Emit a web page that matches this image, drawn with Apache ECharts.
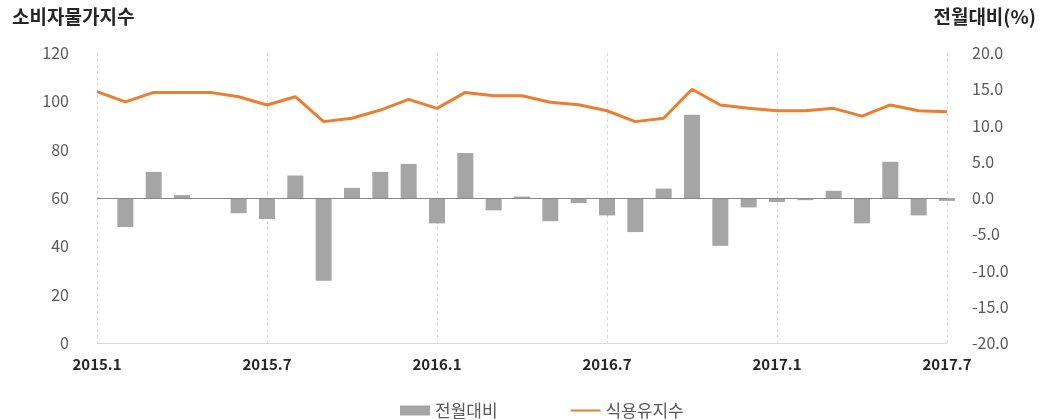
<!DOCTYPE html>
<html><head><meta charset="utf-8">
<script src="https://cdn.jsdelivr.net/npm/echarts@6/dist/echarts.min.js"></script>
<style>html,body{margin:0;padding:0;background:#fff}#c{width:1046px;height:420px}</style>
</head><body><div id="c"></div>
<script>
const categories = ['2015.1','2015.2','2015.3','2015.4','2015.5','2015.6','2015.7','2015.8','2015.9','2015.10','2015.11','2015.12',
 '2016.1','2016.2','2016.3','2016.4','2016.5','2016.6','2016.7','2016.8','2016.9','2016.10','2016.11','2016.12',
 '2017.1','2017.2','2017.3','2017.4','2017.5','2017.6','2017.7'];
const momChange = [0,-4.0,3.6,0.4,0,-2.1,-2.9,3.1,-11.4,1.4,3.6,4.7,-3.5,6.2,-1.7,0.2,-3.2,-0.7,-2.4,-4.7,1.3,11.5,-6.6,-1.3,-0.55,-0.3,1.0,-3.5,5.0,-2.4,-0.4];
const oilIndex = [104.0,99.8,103.7,103.7,103.7,101.9,98.5,101.9,91.6,93.0,96.4,100.8,97.1,103.7,102.3,102.3,99.6,98.6,96.1,91.6,93.0,105.0,98.5,97.1,96.1,96.1,97.1,93.9,98.5,96.1,95.7];
const leftTicks = [0,20,40,60,80,100,120];
const rightTicks = [-20,-15,-10,-5,0,5,10,15,20];

const font = '"Noto Sans CJK KR", "Noto Sans", sans-serif';
const chart = echarts.init(document.getElementById('c'));
chart.setOption({
  animation:false,
  textStyle:{fontFamily:font},
  title:[
    {text:'소비자물가지수', left:7, top:2, textStyle:{fontFamily:font, fontSize:19, fontWeight:'bold', color:'#262626'}},
    {text:'전월대비(%)', right:5, top:2, textStyle:{fontFamily:font, fontSize:19, fontWeight:'bold', color:'#262626'}}
  ],
  grid:{left:97, right:99, top:53, bottom:77},
  legend:{
    top:397, left:395, itemGap:72, itemWidth:30, itemHeight:10,
    textStyle:{fontFamily:font, fontSize:17, color:'#595959'},
    data:[{name:'전월대비', icon:'rect'}, {name:'식용유지수', itemStyle:{opacity:0}}]
  },
  xAxis:{
    type:'category', data:categories, boundaryGap:false,
    axisLine:{lineStyle:{color:'#d9d9d9'}},
    axisTick:{show:false},
    axisLabel:{interval:5, fontFamily:font, fontSize:15, fontWeight:'bold', color:'#262626', margin:14},
    splitLine:{show:true, interval:5, lineStyle:{color:'#d9d9d9', type:[3,3]}}
  },
  yAxis:[
    {type:'value', min:leftTicks[0], max:leftTicks[leftTicks.length-1], interval:20,
     axisLine:{show:false}, axisTick:{show:false}, splitLine:{show:false},
     axisLabel:{fontFamily:font, fontSize:16, color:'#595959', margin:28}},
    {type:'value', min:rightTicks[0], max:rightTicks[rightTicks.length-1], interval:5,
     axisLine:{show:false}, axisTick:{show:false}, splitLine:{show:false},
     axisLabel:{fontFamily:font, fontSize:16, color:'#595959', margin:25, formatter:v=>v.toFixed(1)}}
  ],
  series:[
    {name:'전월대비', type:'bar', yAxisIndex:1, data:momChange, barWidth:16, clip:false,
     itemStyle:{color:'#a5a5a5'},
     markLine:{silent:true, symbol:'none', label:{show:false}, lineStyle:{color:'#868686', width:1, type:'solid'},
       data:[{yAxis:0}]}},
    {name:'식용유지수', type:'line', yAxisIndex:0, data:oilIndex, symbol:'none',
     lineStyle:{color:'#ed7d31', width:3}, itemStyle:{color:'#ed7d31'}}
  ]
});
</script></body></html>
